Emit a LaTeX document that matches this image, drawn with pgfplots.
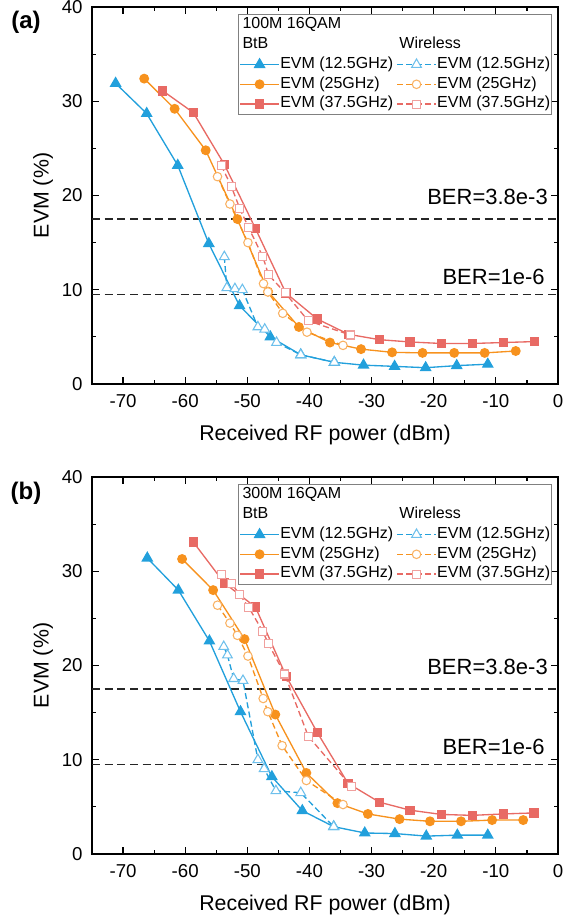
\documentclass[border=0pt]{standalone}
\usepackage{pgfplots}
\pgfplotsset{compat=1.18}
\usepackage{fontspec}
\setmainfont{Liberation Sans}

\definecolor{cb}{RGB}{34,160,220}
\definecolor{co}{RGB}{247,146,30}
\definecolor{cr}{RGB}{232,106,100}
\definecolor{cbl}{RGB}{110,192,236}
\definecolor{col}{RGB}{249,178,100}
\definecolor{crl}{RGB}{240,160,158}

\newcommand\hdr[1]{\addlegendimage{legend image code/.code={\node[overlay,anchor=west,inner sep=0pt,font=\fontsize{12}{14}\selectfont] at (1.5pt,0pt) {#1};}}\addlegendentry{\strut}}

\tikzset{bertxt/.style={anchor=east, inner sep=0pt, font=\fontsize{16.5}{19}\selectfont}}

\pgfplotsset{
  evm/.style={
    scale only axis, width=349.5pt, height=282.75pt,
    xmin=-75, xmax=0, ymin=0, ymax=40,
    xtick={-70,-60,...,0}, ytick={0,10,...,40},
    minor x tick num=1, minor y tick num=1,
    tick align=inside,
    major tick length=5.25pt, minor tick length=3pt,
    axis line style={line width=1pt},
    every tick/.style={black, line width=0.9pt},
    tick label style={font=\fontsize{14}{16}\selectfont},
    /pgf/number format/assume math mode=true,
    xticklabel style={yshift=-4pt},
    yticklabel style={xshift=-3.5pt},
    xlabel={Received RF power (dBm)}, ylabel={EVM (\%)},
    label style={font=\fontsize{16}{19}\selectfont},
    xlabel style={at={(axis description cs:0.5,-0.1353)}, anchor=center},
    ylabel style={at={(axis description cs:-0.1052,0.5)}, anchor=center},
    legend columns=2, legend cell align=left,
    legend style={at={(axis description cs:0.9865,0.981)}, anchor=north east,
      draw=gray, line width=0.6pt, fill=white, inner sep=0.5pt,
      font=\fontsize{12}{14}\selectfont,
      nodes={inner sep=0.4pt, text height=9.8pt, text depth=4.2pt},
      /tikz/every even column/.append style={column sep=2pt}},
    legend image code/.code={\draw[mark repeat=2,mark phase=2,##1] plot coordinates {(0pt,0pt) (14.6pt,0pt) (29.2pt,0pt)};},
  },
  btb/.style={color=#1, line width=1pt, solid, mark options={fill=#1, draw=#1, solid}},
  wl/.style 2 args={color=#1, line width=1pt, dash pattern=on 4.5pt off 2.5pt, mark options={fill=white, draw=#2, solid, line width=0.8pt}},
  tri/.style={mark=triangle*, mark size=4.2pt},
  cir/.style={mark=*, mark size=3.2pt},
  sqr/.style={mark=square*, mark size=3pt},
  ber/.style={forget plot, black!85, line width=1.1pt, dash pattern=on 6pt off 3.5pt},
}

\begin{document}
\begin{tikzpicture}
\begin{axis}[evm, at={(0pt,0pt)}, anchor=south west]
\addplot[ber] coordinates {(-75,17.5) (0,17.5)};
\addplot[ber] coordinates {(-75,9.5) (0,9.5)};
\hdr{100M 16QAM}
\addlegendimage{empty legend}\addlegendentry{\strut}
\hdr{BtB}
\hdr{Wireless}
\addplot[btb=cb, tri] coordinates {(-71.2,31.9)(-66.2,28.7)(-61.2,23.2)(-56.2,14.9)(-51.25,8.3)(-46.3,5.0)(-41.4,3.1)(-36.0,2.3)(-31.3,2.0)(-26.3,1.87)(-21.3,1.73)(-16.3,1.95)(-11.3,2.1)};
\addlegendentry{EVM (12.5GHz)}
\addplot[wl={cb}{cbl}, tri] coordinates {(-53.7,13.5)(-53.3,10.2)(-52.0,10.1)(-50.8,10.0)(-48.3,6.05)(-47.2,5.8)(-45.3,4.4)(-41.4,3.1)(-36.0,2.3)};
\addlegendentry{EVM (12.5GHz)}
\addplot[btb=co, cir] coordinates {(-66.6,32.4)(-61.7,29.2)(-56.7,24.8)(-51.6,17.5)(-46.65,9.8)(-41.7,6.05)(-36.7,4.4)(-31.7,3.7)(-26.7,3.36)(-21.8,3.3)(-16.7,3.3)(-11.8,3.3)(-6.8,3.5)};
\addlegendentry{EVM (25GHz)}
\addplot[wl={co}{col}, cir] coordinates {(-54.8,22.0)(-52.8,19.1)(-49.9,15.0)(-47.4,10.65)(-46.7,9.77)(-44.3,7.5)(-40.4,5.5)(-34.6,4.1)};
\addlegendentry{EVM (25GHz)}
\addplot[btb=cr, sqr] coordinates {(-63.6,31.1)(-58.7,28.8)(-53.7,23.3)(-48.7,16.5)(-43.8,9.66)(-38.75,6.9)(-33.7,5.27)(-28.7,4.7)(-23.8,4.46)(-18.8,4.3)(-13.8,4.3)(-8.8,4.4)(-3.8,4.5)};
\addlegendentry{EVM (37.5GHz)}
\addplot[wl={cr}{crl}, sqr] coordinates {(-54.2,23.2)(-52.6,21.0)(-51.2,18.6)(-49.8,16.6)(-47.5,13.5)(-46.6,11.6)(-43.9,9.66)(-40.2,6.7)(-33.4,5.2)};
\addlegendentry{EVM (37.5GHz)}
\node[bertxt] at (axis cs:-1.6,19.9) {BER=3.8e-3};
\node[bertxt] at (axis cs:-2.1,11.4) {BER=1e-6};
\end{axis}
\node[font=\bfseries\fontsize{18}{21}\selectfont] at (-49.5pt,271.5pt) {(a)};

\begin{axis}[evm, at={(0pt,-352.5pt)}, anchor=south west]
\addplot[ber] coordinates {(-75,17.5) (0,17.5)};
\addplot[ber] coordinates {(-75,9.5) (0,9.5)};
\hdr{300M 16QAM}
\addlegendimage{empty legend}\addlegendentry{\strut}
\hdr{BtB}
\hdr{Wireless}
\addplot[btb=cb, tri] coordinates {(-66.1,31.4)(-61.1,28.0)(-56.1,22.6)(-51.1,15.1)(-46.05,8.2)(-41.15,4.6)(-36.1,2.9)(-31.1,2.23)(-26.25,2.17)(-21.2,1.9)(-16.2,2.0)(-11.3,2.0)};
\addlegendentry{EVM (12.5GHz)}
\addplot[wl={cb}{cbl}, tri] coordinates {(-53.8,22.0)(-53.2,21.1)(-52.2,18.6)(-50.7,18.4)(-48.3,10.0)(-47.3,9.04)(-45.4,6.7)(-41.4,6.5)(-36.1,2.9)};
\addlegendentry{EVM (12.5GHz)}
\addplot[btb=co, cir] coordinates {(-60.5,31.3)(-55.5,28.0)(-50.45,22.8)(-45.5,14.8)(-40.5,8.6)(-35.5,5.4)(-30.6,4.25)(-25.5,3.7)(-20.6,3.47)(-15.6,3.47)(-10.6,3.6)(-5.6,3.6)};
\addlegendentry{EVM (25GHz)}
\addplot[wl={co}{col}, cir] coordinates {(-54.8,26.4)(-52.8,24.5)(-51.6,23.2)(-49.9,21.0)(-47.45,16.5)(-46.7,15.1)(-44.4,11.5)(-40.5,7.8)(-34.6,5.25)};
\addlegendentry{EVM (25GHz)}
\addplot[btb=cr, sqr] coordinates {(-58.7,33.1)(-53.7,28.75)(-48.7,26.2)(-43.7,18.8)(-38.75,12.9)(-33.8,7.5)(-28.75,5.5)(-23.8,4.65)(-18.8,4.2)(-13.8,4.1)(-8.8,4.25)(-3.85,4.36)};
\addlegendentry{EVM (37.5GHz)}
\addplot[wl={cr}{crl}, sqr] coordinates {(-54.2,29.7)(-52.6,28.75)(-51.2,27.5)(-49.8,26.2)(-47.5,23.6)(-46.6,22.3)(-44.0,19.1)(-40.2,12.5)(-33.3,7.2)};
\addlegendentry{EVM (37.5GHz)}
\node[bertxt] at (axis cs:-1.6,19.9) {BER=3.8e-3};
\node[bertxt] at (axis cs:-2.1,11.4) {BER=1e-6};
\end{axis}
\node[font=\bfseries\fontsize{18}{21}\selectfont] at (-49.5pt,-81.75pt) {(b)};

\pgfresetboundingbox
\useasboundingbox (-69pt,-402.75pt) rectangle (355.5pt,288pt);
\end{tikzpicture}
\end{document}
